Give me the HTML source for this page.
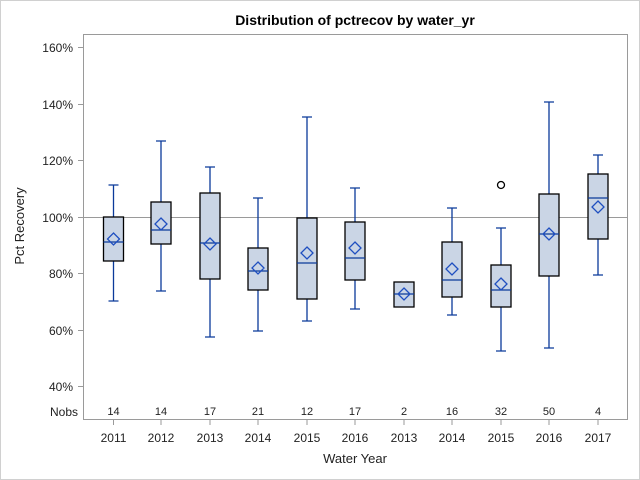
<!DOCTYPE html>
<html><head><meta charset="utf-8"><style>
html,body{margin:0;padding:0;background:#fff}
svg{display:block;font-family:"Liberation Sans",Arial,sans-serif}
.w{stroke:#0b3a9a;stroke-width:1.3;fill:none}
.b{fill:#cad5e5;stroke:#000;stroke-width:1.3}
.m{fill:none;stroke:#1f4fc0;stroke-width:1.3}
.n{font-size:11px;fill:#222;text-anchor:middle}
.t{font-size:12px;fill:#222;text-anchor:middle}
</style></head><body>
<svg width="640" height="480" viewBox="0 0 640 480" xmlns="http://www.w3.org/2000/svg">
<rect x="0.5" y="0.5" width="639" height="479" fill="#fff" stroke="#d0d0d0"/>
<text x="355" y="25" text-anchor="middle" font-size="14" font-weight="bold">Distribution of pctrecov by water_yr</text>
<rect x="83.5" y="34.5" width="544" height="385" fill="none" stroke="#9a9a9a"/>
<g stroke="#9a9a9a">
<line x1="78" y1="47.5" x2="83" y2="47.5"/><line x1="78" y1="104.5" x2="83" y2="104.5"/><line x1="78" y1="160.5" x2="83" y2="160.5"/><line x1="78" y1="217.5" x2="83" y2="217.5"/><line x1="78" y1="273.5" x2="83" y2="273.5"/><line x1="78" y1="330.5" x2="83" y2="330.5"/><line x1="78" y1="386.5" x2="83" y2="386.5"/>
<line x1="84" y1="217.5" x2="627" y2="217.5"/>
</g>
<g font-size="12" text-anchor="end" fill="#222">
<text x="73" y="52">160%</text><text x="73" y="109">140%</text><text x="73" y="165">120%</text><text x="73" y="222">100%</text><text x="73" y="278">80%</text><text x="73" y="335">60%</text><text x="73" y="391">40%</text>
<text x="78" y="416">Nobs</text>
</g>
<text transform="translate(24,226) rotate(-90)" text-anchor="middle" font-size="13" fill="#222">Pct Recovery</text>
<text x="355" y="463" text-anchor="middle" font-size="13" fill="#222">Water Year</text>

<g stroke="#9a9a9a">
<line x1="113.5" y1="420" x2="113.5" y2="425"/><line x1="161" y1="420" x2="161" y2="425"/><line x1="210" y1="420" x2="210" y2="425"/><line x1="258" y1="420" x2="258" y2="425"/><line x1="307" y1="420" x2="307" y2="425"/><line x1="355" y1="420" x2="355" y2="425"/><line x1="404" y1="420" x2="404" y2="425"/><line x1="452" y1="420" x2="452" y2="425"/><line x1="501" y1="420" x2="501" y2="425"/><line x1="549" y1="420" x2="549" y2="425"/><line x1="598" y1="420" x2="598" y2="425"/>
</g>

<!-- whiskers -->
<path class="w" d="M113.5 185V217M108.5 185H118.5M113.5 261V301M108.5 301H118.5
M161 141V202M156 141H166M161 244V291M156 291H166
M210 167V193M205 167H215M210 279V337M205 337H215
M258 198V248M253 198H263M258 290V331M253 331H263
M307 117V218M302 117H312M307 299V321M302 321H312
M355 188V222M350 188H360M355 280V309M350 309H360
M452 208V242M447 208H457M452 297V315M447 315H457
M501 228V265M496 228H506M501 307V351M496 351H506
M549 102V194M544 102H554M549 276V348M544 348H554
M598 155V174M593 155H603M598 239V275M593 275H603"/>

<!-- boxes -->
<rect class="b" x="103.5" y="217" width="20" height="44"/>
<rect class="b" x="151" y="202" width="20" height="42"/>
<rect class="b" x="200" y="193" width="20" height="86"/>
<rect class="b" x="248" y="248" width="20" height="42"/>
<rect class="b" x="297" y="218" width="20" height="81"/>
<rect class="b" x="345" y="222" width="20" height="58"/>
<rect class="b" x="394" y="282" width="20" height="25"/>
<rect class="b" x="442" y="242" width="20" height="55"/>
<rect class="b" x="491" y="265" width="20" height="42"/>
<rect class="b" x="539" y="194" width="20" height="82"/>
<rect class="b" x="588" y="174" width="20" height="65"/>

<!-- medians -->
<path class="w" d="M103.5 242H123.5M151 230H171M200 243H220M248 271H268M297 263H317M345 258H365M394 294H414M442 280H462M491 290H511M539 234H559M588 198H608"/>

<!-- means -->
<path class="m" d="M113.5 233l6 6l-6 6l-6-6z M161 218l6 6l-6 6l-6-6z M210 238l6 6l-6 6l-6-6z M258 262l6 6l-6 6l-6-6z M307 247l6 6l-6 6l-6-6z M355 242l6 6l-6 6l-6-6z M404 288l6 6l-6 6l-6-6z M452 263l6 6l-6 6l-6-6z M501 278l6 6l-6 6l-6-6z M549 228l6 6l-6 6l-6-6z M598 201l6 6l-6 6l-6-6z"/>

<circle cx="501" cy="185" r="3.5" fill="none" stroke="#000" stroke-width="1.3"/>

<g class="n">
<text class="n" x="113.5" y="415">14</text><text class="n" x="161" y="415">14</text><text class="n" x="210" y="415">17</text><text class="n" x="258" y="415">21</text><text class="n" x="307" y="415">12</text><text class="n" x="355" y="415">17</text><text class="n" x="404" y="415">2</text><text class="n" x="452" y="415">16</text><text class="n" x="501" y="415">32</text><text class="n" x="549" y="415">50</text><text class="n" x="598" y="415">4</text>
</g>
<g>
<text class="t" x="113.5" y="442">2011</text><text class="t" x="161" y="442">2012</text><text class="t" x="210" y="442">2013</text><text class="t" x="258" y="442">2014</text><text class="t" x="307" y="442">2015</text><text class="t" x="355" y="442">2016</text><text class="t" x="404" y="442">2013</text><text class="t" x="452" y="442">2014</text><text class="t" x="501" y="442">2015</text><text class="t" x="549" y="442">2016</text><text class="t" x="598" y="442">2017</text>
</g>
</svg>
</body></html>
